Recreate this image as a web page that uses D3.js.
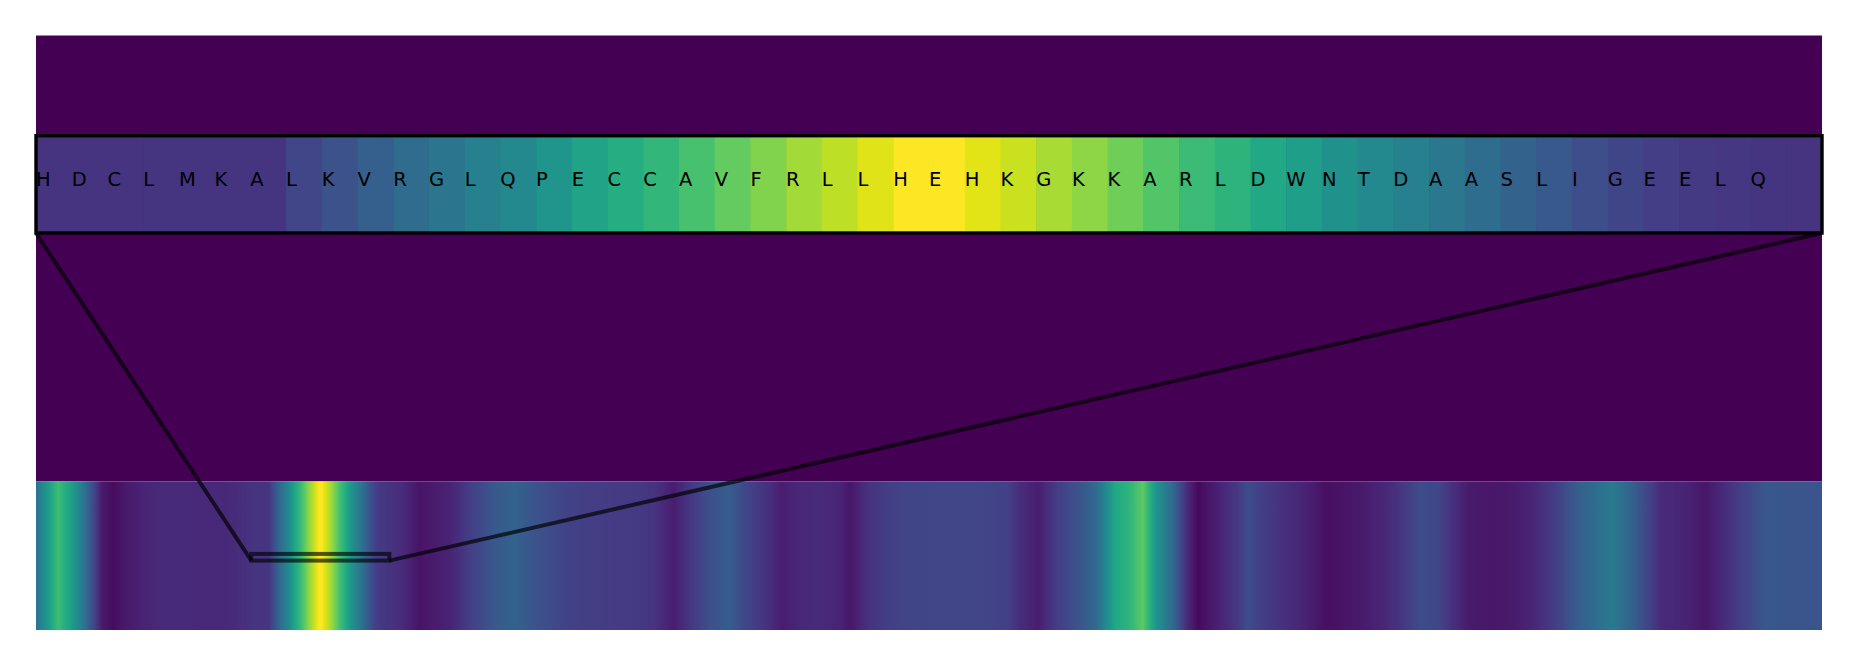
<!DOCTYPE html>
<html><head><meta charset="utf-8">
<script src="https://cdn.jsdelivr.net/npm/d3@7"></script>
<style>body{margin:0;background:#fff} svg{display:block}</style>
</head><body>
<svg id="chart" width="1857" height="667"></svg>
<script>
// ---- data ----
const seqLength = 647;
// main strip: residue positions and normalised scores (outside the inset window)
const stripPos = [0,4,8,12.5,17,21,24,28,33,39,46,55,60,65,72,76,
  133,139,143,150,157,166,173,180,191,201,217,224,231,237,245,251,258,265,270,277,284,291,295,301,308,314,328,342,352,357,363,370,377,384,391,396,401,406,412,417,421,426,435,439,443,448,455,462,467,473,480,489,496,502,508,513,519,527,535,543,551,559,565,571,578,584,589,597,605,611,618,627,647];
const stripVal = [0.37,0.53,0.69,0.57,0.4,0.21,0.07,0.03,0.07,0.1,0.12,0.12,0.11,0.11,0.12,0.14,
  0.12,0.05,0.07,0.1,0.18,0.27,0.31,0.26,0.2,0.18,0.17,0.15,0.08,0.16,0.25,0.29,0.2,0.14,0.08,0.11,0.12,0.1,0.06,0.14,0.18,0.2,0.21,0.21,0.19,0.12,0.08,0.18,0.25,0.34,0.6,0.65,0.75,0.51,0.33,0.12,0.02,0.07,0.16,0.23,0.19,0.16,0.12,0.08,0.04,0.05,0.07,0.11,0.17,0.23,0.21,0.14,0.07,0.06,0.07,0.11,0.19,0.3,0.35,0.41,0.31,0.2,0.12,0.1,0.06,0.12,0.19,0.27,0.26];
// inset window
const insetStart = 78;
const insetLetters = ["H","D","C","L","M","K","A","L","K","V","R","G","L","Q","P","E","C","C","A","V","F","R","L","L","H","E","H","K","G","K","K","A","R","L","D","W","N","T","D","A","A","S","L","I","G","E","E","L","Q",""];
const insetVal = [0.15,0.15,0.15,0.155,0.155,0.155,0.155,0.21,0.25,0.3,0.35,0.39,0.43,0.47,0.52,0.58,0.62,0.66,0.71,0.76,0.81,0.86,0.9,0.95,1.0,1.0,0.955,0.92,0.87,0.83,0.78,0.73,0.68,0.645,0.6,0.555,0.5,0.47,0.43,0.395,0.355,0.31,0.275,0.235,0.205,0.18,0.17,0.16,0.155,0.15];
const insetYRange = [-0.033, 0.012];

// ---- scales ----
const svg = d3.select("#chart");
const color = d3.scaleSequential(d3.interpolateViridis).domain([0,1]);
const xMain = d3.scaleLinear().domain([0, seqLength]).range([36, 1822]);
const yMain = d3.scaleLinear().domain([-0.5, 3.5]).range([630, 35.5]);
const insetEnd = insetStart + insetVal.length;
const xInset = d3.scaleLinear().domain([insetStart, insetEnd]).range([36, 1822]);
const yInset = d3.scaleLinear().domain([0, 1]).range([233, 135.7]);

// ---- main axes ----
svg.append("rect").attr("x", xMain(0)).attr("y", yMain(3.5))
  .attr("width", xMain(seqLength) - xMain(0)).attr("height", yMain(0.5) - yMain(3.5))
  .attr("fill", color(0));

// gradient for the smoothed strip
let pts = stripPos.map((p,i)=>({p, v: stripVal[i]}));
insetVal.forEach((v,i)=>pts.push({p: insetStart + i + 0.5, v}));
pts.sort((a,b)=>a.p-b.p);
const grad = svg.append("defs").append("linearGradient").attr("id","strip")
  .attr("gradientUnits","userSpaceOnUse")
  .attr("x1", xMain(0)).attr("x2", xMain(seqLength)).attr("y1",0).attr("y2",0);
const W = xMain(seqLength) - xMain(0);
const stops = [];
for (let i=0;i<pts.length;i++){
  const a = pts[i];
  stops.push({o:(xMain(a.p)-xMain(0))/W, c:color(a.v)});
  if (i < pts.length-1){
    const b = pts[i+1];
    for (let k=1;k<4;k++){
      const t = k/4;
      stops.push({o:(xMain(a.p+(b.p-a.p)*t)-xMain(0))/W, c:color(a.v+(b.v-a.v)*t)});
    }
  }
}
grad.selectAll("stop").data(stops).join("stop")
  .attr("offset", d=>Math.max(0,Math.min(1,d.o))).attr("stop-color", d=>d.c);
svg.append("rect").attr("x", xMain(0)).attr("y", yMain(0.5))
  .attr("width", W).attr("height", yMain(-0.5) - yMain(0.5))
  .attr("fill", "url(#strip)");

// inset indicator rectangle
svg.append("rect")
  .attr("x", xMain(insetStart)).attr("y", yMain(insetYRange[1]))
  .attr("width", xMain(insetEnd) - xMain(insetStart))
  .attr("height", yMain(insetYRange[0]) - yMain(insetYRange[1]))
  .attr("fill","none").attr("stroke","#000").attr("stroke-opacity",0.65).attr("stroke-width",4);

// connector lines
svg.selectAll("line.conn").data([insetStart, insetEnd]).join("line")
  .attr("class","conn")
  .attr("x1", d=>xInset(d)).attr("y1", yInset(0))
  .attr("x2", d=>xMain(d)).attr("y2", yMain(insetYRange[0]))
  .attr("stroke","#000").attr("stroke-opacity",0.68).attr("stroke-width",4);

// ---- inset axes ----
const ins = svg.append("g");
ins.selectAll("rect.cell").data(insetVal).join("rect").attr("class","cell")
  .attr("x",(d,i)=>xInset(insetStart+i)).attr("y", yInset(1))
  .attr("width",(d,i)=>xInset(insetStart+i+1)-xInset(insetStart+i)+0.6)
  .attr("height", yInset(0)-yInset(1))
  .attr("fill", d=>color(d));
ins.selectAll("text").data(insetLetters).join("text")
  .attr("x",(d,i)=>xInset(insetStart+i)).attr("y", 186)
  .attr("font-family","DejaVu Sans").attr("font-size","19.5px").attr("fill","#000")
  .text(d=>d);
ins.append("rect").attr("x", xInset(insetStart)).attr("y", yInset(1))
  .attr("width", xInset(insetEnd)-xInset(insetStart)).attr("height", yInset(0)-yInset(1))
  .attr("fill","none").attr("stroke","#000").attr("stroke-width",3.4);
</script>
</body></html>
